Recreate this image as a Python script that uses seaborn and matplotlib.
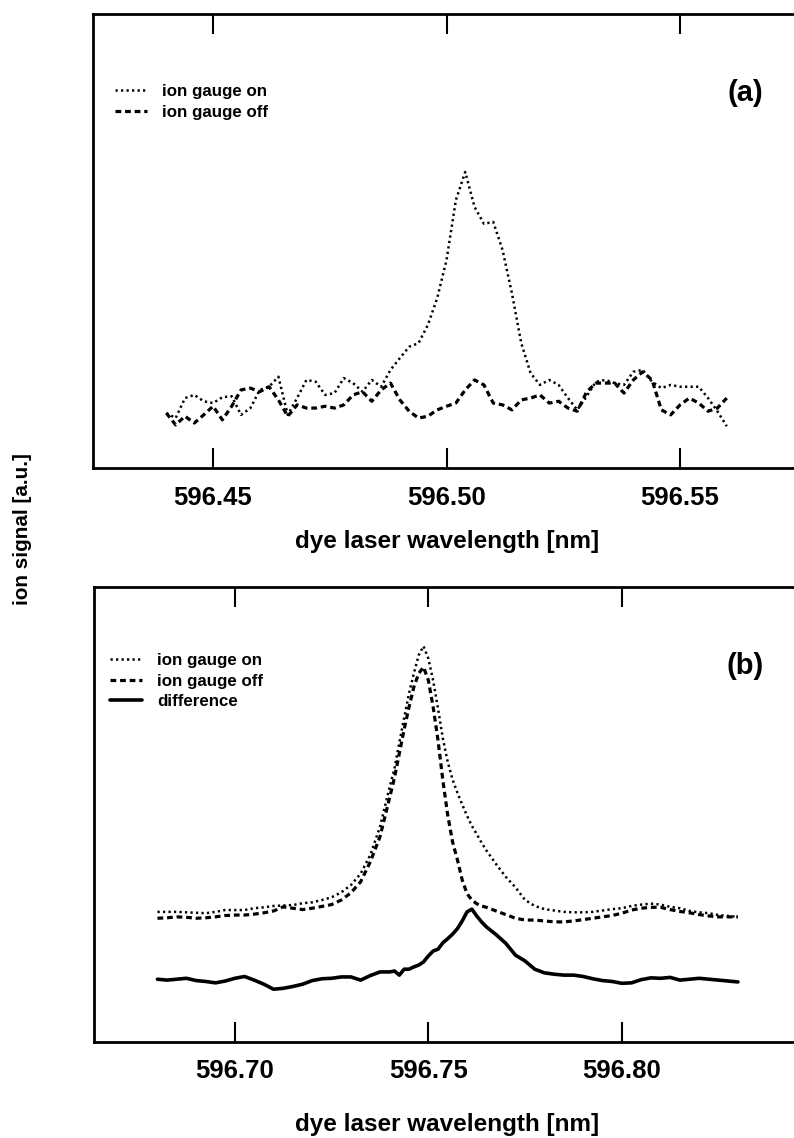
import matplotlib
matplotlib.use("Agg")
import matplotlib.pyplot as plt
import seaborn as sns

sns.set_theme(style="white")
plt.rcParams['font.family'] = ['Liberation Sans', 'DejaVu Sans']
plt.rcParams['text.color'] = 'black'
plt.rcParams['axes.labelcolor'] = 'black'
plt.rcParams['xtick.color'] = 'black'

# panel (a): scan around 596.50 nm
wl_a = [596.440, 596.442, 596.444, 596.446, 596.448, 596.450, 596.452, 596.454,
        596.456, 596.458, 596.460, 596.462, 596.464, 596.466, 596.468, 596.470,
        596.472, 596.474, 596.476, 596.478, 596.480, 596.482, 596.484, 596.486,
        596.488, 596.490, 596.492, 596.494, 596.496, 596.498, 596.500, 596.502,
        596.504, 596.506, 596.508, 596.510, 596.512, 596.514, 596.516, 596.518,
        596.520, 596.522, 596.524, 596.526, 596.528, 596.530, 596.532, 596.534,
        596.536, 596.538, 596.540, 596.542, 596.544, 596.546, 596.548, 596.550,
        596.552, 596.554, 596.556, 596.558, 596.560]
on_a = [12.1, 11.0, 15.4, 16.1, 14.7, 14.3, 15.6, 15.8, 11.7, 13.2, 17.2, 17.9,
        20.1, 11.7, 15.4, 19.4, 19.0, 16.1, 16.5, 19.8, 18.7, 16.8, 19.4, 17.9,
        21.6, 24.2, 26.7, 27.5, 31.5, 37.4, 45.8, 59.0, 65.2, 57.5, 53.8, 54.2,
        48.0, 38.5, 27.5, 20.9, 18.3, 19.4, 18.3, 15.4, 12.8, 15.8, 19.0, 19.4,
        18.7, 18.3, 21.2, 21.6, 19.0, 17.6, 18.3, 17.9, 17.9, 17.9, 15.4, 12.5, 9.2]
off_a = [12.1, 9.5, 11.4, 9.9, 11.7, 13.6, 10.6, 13.6, 17.2, 17.6, 16.8, 17.9,
         15.0, 11.4, 13.9, 13.2, 13.2, 13.6, 13.2, 13.9, 16.1, 16.8, 14.7, 17.2,
         18.7, 15.0, 12.5, 11.0, 11.4, 12.8, 13.6, 14.3, 17.2, 19.4, 18.3, 14.3,
         13.9, 12.8, 15.0, 15.4, 16.1, 14.3, 14.7, 13.2, 12.5, 16.8, 18.7, 18.7,
         18.7, 16.5, 19.4, 21.2, 19.4, 12.8, 11.7, 13.9, 15.4, 14.3, 12.5, 13.2, 15.4]

# panel (b): scan around 596.75 nm
wl_b = [596.6800, 596.6825, 596.6850, 596.6875, 596.6900, 596.6925, 596.6950,
        596.6975, 596.7000, 596.7025, 596.7050, 596.7075, 596.7100, 596.7125,
        596.7150, 596.7175, 596.7200, 596.7225, 596.7250, 596.7275, 596.7300,
        596.7325, 596.7350, 596.7375, 596.7400,
        596.74125, 596.7425, 596.74375, 596.7450, 596.74625, 596.7475, 596.74875,
        596.7500, 596.75125, 596.7525, 596.75375, 596.7550, 596.75625, 596.7575,
        596.75875, 596.7600, 596.76125, 596.7625, 596.76375, 596.7650,
        596.7675, 596.7700, 596.7725, 596.7750, 596.7775, 596.7800, 596.7825,
        596.7850, 596.7875, 596.7900, 596.7925, 596.7950, 596.7975, 596.8000,
        596.8025, 596.8050, 596.8075, 596.8100, 596.8125, 596.8150, 596.8175,
        596.8200, 596.8225, 596.8250, 596.8275, 596.8300]
on_b = [28.6, 28.6, 28.6, 28.5, 28.4, 28.3, 28.6, 29.0, 29.0, 29.0, 29.4, 29.6,
        29.9, 30.0, 30.1, 30.5, 30.7, 31.2, 31.8, 32.9, 34.5, 37.0, 41.1, 47.3, 56.0,
        60.1, 65.8, 71.2, 76.6, 81.0, 85.0, 87.0, 84.3, 79.4, 73.3, 66.7, 61.6,
        57.7, 54.8, 52.2, 49.7, 47.5, 45.7, 43.8, 42.1,
        39.1, 36.3, 34.0, 31.2, 29.9, 29.2, 28.9, 28.6, 28.5, 28.5, 28.6, 28.9,
        29.2, 29.4, 29.9, 30.2, 30.4, 30.2, 29.7, 29.4, 28.8, 28.5, 28.3, 27.9, 27.7, 27.5]
off_b = [27.2, 27.3, 27.5, 27.4, 27.2, 27.3, 27.5, 27.8, 27.9, 27.9, 28.1, 28.4,
         28.8, 29.7, 29.4, 29.1, 29.4, 29.8, 30.2, 31.2, 32.8, 35.2, 39.6, 45.1, 53.7,
         58.1, 63.4, 68.7, 73.6, 78.0, 81.0, 82.4, 79.5, 73.6, 66.3, 57.5, 49.9,
         44.0, 40.1, 35.6, 32.6, 31.2, 30.4, 29.9, 29.6,
         28.8, 28.0, 27.2, 26.8, 26.8, 26.6, 26.4, 26.4, 26.6, 26.9, 27.2, 27.5,
         27.8, 28.3, 29.0, 29.4, 29.6, 29.6, 29.1, 28.7, 28.4, 28.0, 27.7, 27.5, 27.5, 27.5]
diff_b = [13.8, 13.6, 13.8, 14.0, 13.5, 13.3, 13.0, 13.4, 14.0, 14.4, 13.6, 12.7,
          11.6, 11.8, 12.2, 12.7, 13.5, 13.9, 14.0, 14.3, 14.3, 13.6, 14.6, 15.4, 15.4,
          15.6, 14.7, 16.0, 16.0, 16.5, 16.9, 17.6, 18.9, 20.0, 20.4, 21.8, 22.7,
          23.7, 24.9, 26.6, 28.6, 29.2, 27.7, 26.4, 25.3,
          23.6, 21.7, 19.1, 17.8, 16.0, 15.2, 14.9, 14.7, 14.7, 14.4, 13.9, 13.5,
          13.3, 12.9, 13.0, 13.7, 14.1, 14.0, 14.2, 13.6, 13.8, 14.0, 13.8, 13.6, 13.4, 13.2]

ticks_a = [596.45, 596.50, 596.55]
ticks_b = [596.70, 596.75, 596.80]

DOT = (0, (0.9, 1.3))
DASH = (0, (1.8, 1.2))


def style_panel(ax, xlim, ticks, tag, tickpad, labelpad, leg_xy):
    ax.set_xlim(*xlim)
    ax.set_ylim(0, 100)
    ax.set_xticks(ticks)
    ax.set_xticklabels([f"{t:.2f}" for t in ticks], fontweight='bold')
    ax.set_yticks([])
    ax.tick_params(axis='x', direction='in', length=14.4, width=1.5, color='black',
                   top=True, bottom=True, pad=tickpad, labelsize=18.5)
    for s in ax.spines.values():
        s.set_linewidth(2)
        s.set_color('black')
    ax.set_xlabel('dye laser wavelength [nm]', fontsize=17.5, fontweight='bold',
                  labelpad=labelpad)
    ax.set_ylabel('')
    ax.text(0.921, 0.826, tag, transform=ax.transAxes, ha='center', va='center',
            fontsize=21, fontweight='bold')
    ax.legend(loc='upper left', bbox_to_anchor=leg_xy, frameon=False, borderpad=0,
              borderaxespad=0, handlelength=1.9, handletextpad=0.9, labelspacing=0.33,
              prop={'weight': 'bold', 'size': 12.2})


fig = plt.figure(figsize=(7.94, 11.38), dpi=100)
ax_a = fig.add_axes([93 / 794, 1 - 468 / 1138, 708 / 794, 454 / 1138])
ax_b = fig.add_axes([94 / 794, 1 - 1042 / 1138, 707 / 794, 455 / 1138])

sns.lineplot(x=wl_a, y=on_a, ax=ax_a, color='black', lw=1.8, linestyle=DOT,
             label='ion gauge on')
sns.lineplot(x=wl_a, y=off_a, ax=ax_a, color='black', lw=2.3, linestyle=DASH,
             label='ion gauge off')
style_panel(ax_a, (596.4243, 596.5759), ticks_a, '(a)', 13, 14.5, (0.031, 0.846))

sns.lineplot(x=wl_b, y=on_b, ax=ax_b, color='black', lw=1.8, linestyle=DOT,
             label='ion gauge on')
sns.lineplot(x=wl_b, y=off_b, ax=ax_b, color='black', lw=2.3, linestyle=DASH,
             label='ion gauge off')
sns.lineplot(x=wl_b, y=diff_b, ax=ax_b, color='black', lw=2.6, label='difference')
style_panel(ax_b, (596.6636, 596.8463), ticks_b, '(b)', 12.5, 21, (0.0226, 0.855))

fig.text(23 / 794, 1 - 529 / 1138, 'ion signal [a.u.]', rotation=90, ha='center',
         va='center', fontsize=14.9, fontweight='bold')

fig.savefig('out.png', dpi=100)
